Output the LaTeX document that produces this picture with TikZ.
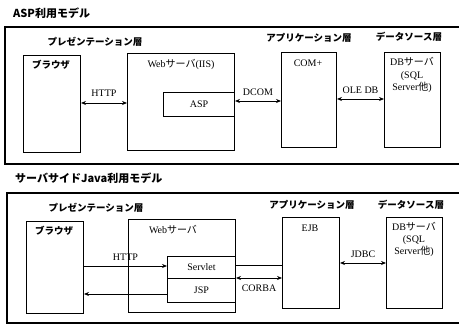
\documentclass[tikz,border=0pt]{standalone}
\usepackage{fontspec}
\setmainfont{Liberation Serif}
\newfontfamily\jp{Noto Sans CJK JP}
\usetikzlibrary{arrows.meta}
\tikzset{
  panel/.style={draw, line width=1.3pt},
  box/.style={draw, line width=1pt, anchor=north west, inner sep=0pt},
  lbl/.style={font=\fontsize{10}{11}\selectfont, inner sep=0pt},
  jlbl/.style={font=\jp\bfseries\fontsize{9.5}{11}\selectfont, inner sep=0pt},
  ttl/.style={font=\jp\bfseries\fontsize{11}{12}\selectfont, inner sep=0pt, anchor=west},
  conn/.style={line width=0.8pt},
  arr2/.style={conn, {Stealth[length=5pt,width=4pt]}-{Stealth[length=5pt,width=4pt]}},
  arr1/.style={conn, -{Stealth[length=5pt,width=4pt]}},
}
\begin{document}
\begin{tikzpicture}[x=1pt,y=-1pt]
\useasboundingbox (0,0) rectangle (459,326);
\fill[white] (0,0) rectangle (459,326);

% ===== Top panel =====
\node[ttl] (t1) at (13,13) {ASP利用モデル};
\draw[panel] (5,27) rectangle (475,164);
\node[jlbl] (pres1) at (95,42) {プレゼンテーション層};
\node[jlbl] (app1) at (309,38) {アプリケーション層};
\node[jlbl] (ds1) at (409,37) {データソース層};

\node[box, minimum width=57pt, minimum height=97pt] (br1) at (23,55) {};
\node[jlbl] (br1l) at (51,65) {ブラウザ};
\node[box, minimum width=107pt, minimum height=97pt] (web1) at (127,53) {};
\node[lbl] (web1l) at (181,64) {Web{\jp サーバ}(IIS)};
\node[box, minimum width=71pt, minimum height=24pt] (asp) at (163,92) {};
\node[lbl] at (asp.center) {ASP};
\node[box, minimum width=55pt, minimum height=95pt] (com) at (281,52) {};
\node[lbl] (coml) at (308,63) {COM+};
\node[box, minimum width=56pt, minimum height=95pt] (db1) at (384,52) {};
\node[lbl, align=center] (db1l) at (412,75) {DB{\jp サーバ}\\[1.5pt](SQL\\[1.5pt]Server{\jp 他})};

\coordinate (h1) at (0,103);
\draw[arr2] (br1.east |- h1) -- (web1.west |- h1) node[lbl, midway, above=6pt] {HTTP};
\coordinate (d1) at (0,101);
\draw[arr2] (web1.east |- d1) -- (com.west |- d1) node[lbl, midway, above=5.5pt] {DCOM};
\coordinate (o1) at (0,99);
\draw[arr2] (com.east |- o1) -- (db1.west |- o1) node[lbl, midway, above=5.5pt] {OLE DB};

% ===== Bottom panel =====
\node[ttl] (t2) at (15,178) {サーバサイドJava利用モデル};
\draw[panel] (7,193) rectangle (475,323);
\node[jlbl] (pres2) at (96,208) {プレゼンテーション層};
\node[jlbl] (app2) at (312,205) {アプリケーション層};
\node[jlbl] (ds2) at (411,205) {データソース層};

\node[box, minimum width=57pt, minimum height=92pt] (br2) at (26,221) {};
\node[jlbl] (br2l) at (54,231) {ブラウザ};
\node[box, minimum width=107pt, minimum height=93pt] (web2) at (128,219) {};
\node[lbl] (web2l) at (173,230) {Web{\jp サーバ}};
\node[box, minimum width=68pt, minimum height=22pt] (srv) at (167,256) {};
\node[lbl] at (srv.center) {Servlet};
\node[box, minimum width=68pt, minimum height=24pt] (jsp) at (167,278) {};
\node[lbl] at (jsp.center) {JSP};
\node[box, minimum width=57pt, minimum height=91pt] (ejb) at (282,217) {};
\node[lbl] (ejbl) at (310,228) {EJB};
\node[box, minimum width=56pt, minimum height=91pt] (db2) at (386,217) {};
\node[lbl, align=center] (db2l) at (414,239) {DB{\jp サーバ}\\[1pt](SQL\\[1pt]Server{\jp 他})};

\coordinate (h2) at (0,266);
\draw[arr1] (br2.east |- h2) -- (srv.west |- h2) node[lbl, midway, above=5.5pt] {HTTP};
\coordinate (r2) at (0,294);
\draw[arr1] (jsp.west |- r2) -- (br2.east |- r2);
\coordinate (p2) at (0,265);
\draw[conn] (srv.east |- p2) -- (ejb.west |- p2);
\coordinate (c2) at (0,278);
\draw[arr2] (web2.east |- c2) -- (ejb.west |- c2) node[lbl, midway, below=6pt] {CORBA};
\coordinate (j2) at (0,263);
\draw[arr2] (ejb.east |- j2) -- (db2.west |- j2) node[lbl, midway, above=5.5pt] {JDBC};
\end{tikzpicture}
\end{document}
